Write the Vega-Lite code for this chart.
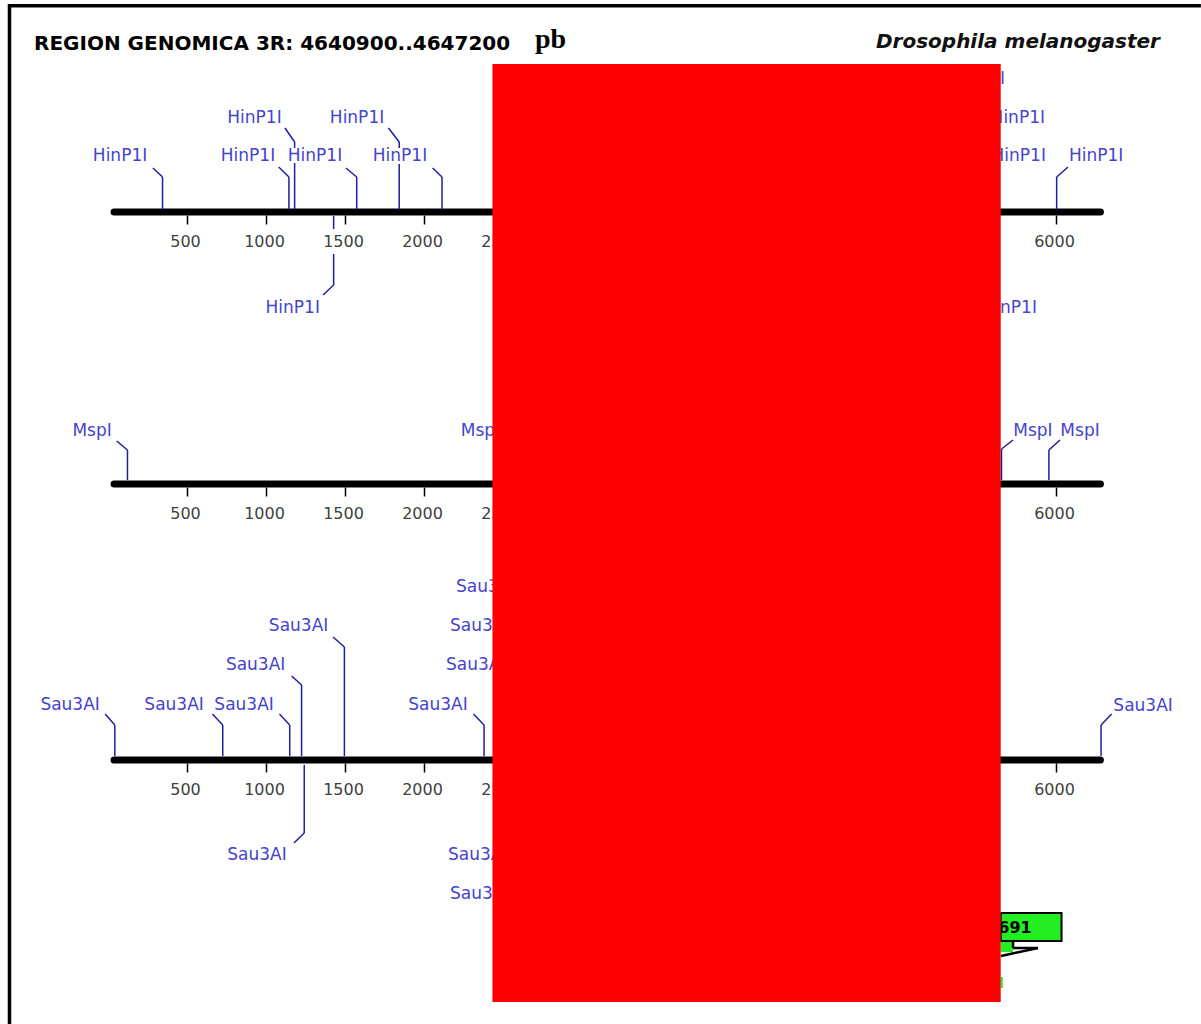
{
  "$schema": "https://vega.github.io/schema/vega-lite/v6.json",
  "autosize": {"type": "none"},
  "width": 1201,
  "height": 1024,
  "padding": 0,
  "background": "white",
  "config": {"view": {"stroke": null}},
  "datasets": {
    "frame": [
      {"x": -636, "y": 5.7, "x2": 6914, "y2": 5.7},
      {"x": -626.6, "y": 4, "x2": -626.6, "y2": 1024}
    ],
    "tracks": [
      {"x": 35, "x2": 6278, "y": 212, "y2": 212},
      {"x": 35, "x2": 6278, "y": 484, "y2": 484},
      {"x": 35, "x2": 6278, "y": 760, "y2": 760}
    ],
    "ticks": [
      {"x": 500, "y": 212}, {"x": 1000, "y": 212}, {"x": 1500, "y": 212}, {"x": 2000, "y": 212}, {"x": 2500, "y": 212}, {"x": 3000, "y": 212}, {"x": 3500, "y": 212}, {"x": 4000, "y": 212}, {"x": 4500, "y": 212}, {"x": 5000, "y": 212}, {"x": 5500, "y": 212}, {"x": 6000, "y": 212},
      {"x": 500, "y": 484}, {"x": 1000, "y": 484}, {"x": 1500, "y": 484}, {"x": 2000, "y": 484}, {"x": 2500, "y": 484}, {"x": 3000, "y": 484}, {"x": 3500, "y": 484}, {"x": 4000, "y": 484}, {"x": 4500, "y": 484}, {"x": 5000, "y": 484}, {"x": 5500, "y": 484}, {"x": 6000, "y": 484},
      {"x": 500, "y": 760}, {"x": 1000, "y": 760}, {"x": 1500, "y": 760}, {"x": 2000, "y": 760}, {"x": 2500, "y": 760}, {"x": 3000, "y": 760}, {"x": 3500, "y": 760}, {"x": 4000, "y": 760}, {"x": 4500, "y": 760}, {"x": 5000, "y": 760}, {"x": 5500, "y": 760}, {"x": 6000, "y": 760}
    ],
    "segs": [
      {"x": 342, "y": 209, "x2": 342, "y2": 177}, {"x": 342, "y": 177, "x2": 281, "y2": 168},
      {"x": 1142, "y": 209, "x2": 1142, "y2": 177}, {"x": 1142, "y": 177, "x2": 1077, "y2": 167},
      {"x": 1178, "y": 209, "x2": 1178, "y2": 163}, {"x": 1178, "y": 148, "x2": 1178, "y2": 142}, {"x": 1178, "y": 142, "x2": 1117, "y2": 128},
      {"x": 1571, "y": 209, "x2": 1571, "y2": 177}, {"x": 1571, "y": 177, "x2": 1503, "y2": 168},
      {"x": 1840, "y": 209, "x2": 1840, "y2": 164}, {"x": 1840, "y": 148, "x2": 1840, "y2": 142}, {"x": 1840, "y": 142, "x2": 1772, "y2": 128},
      {"x": 2111, "y": 209, "x2": 2111, "y2": 177}, {"x": 2111, "y": 177, "x2": 2051, "y2": 168},
      {"x": 6001, "y": 209, "x2": 6001, "y2": 177}, {"x": 6001, "y": 177, "x2": 6073, "y2": 167},
      {"x": 1425, "y": 216, "x2": 1425, "y2": 229}, {"x": 1425, "y": 254, "x2": 1425, "y2": 285}, {"x": 1425, "y": 285, "x2": 1358, "y2": 295},
      {"x": 120, "y": 480, "x2": 120, "y2": 450}, {"x": 120, "y": 450, "x2": 52, "y2": 441},
      {"x": 5652, "y": 480, "x2": 5652, "y2": 449}, {"x": 5652, "y": 449, "x2": 5725, "y2": 440},
      {"x": 5952, "y": 480, "x2": 5952, "y2": 450}, {"x": 5952, "y": 450, "x2": 6022, "y2": 440},
      {"x": 40, "y": 756, "x2": 40, "y2": 725}, {"x": 40, "y": 725, "x2": -21, "y2": 714},
      {"x": 723, "y": 756, "x2": 723, "y2": 725}, {"x": 723, "y": 725, "x2": 658, "y2": 714},
      {"x": 1147, "y": 756, "x2": 1147, "y2": 725}, {"x": 1147, "y": 725, "x2": 1082, "y2": 714},
      {"x": 1222, "y": 756, "x2": 1222, "y2": 685}, {"x": 1222, "y": 685, "x2": 1159, "y2": 676},
      {"x": 1493, "y": 756, "x2": 1493, "y2": 647}, {"x": 1493, "y": 647, "x2": 1421, "y2": 637},
      {"x": 2377, "y": 756, "x2": 2377, "y2": 725}, {"x": 2377, "y": 725, "x2": 2310, "y2": 714},
      {"x": 6282, "y": 756, "x2": 6282, "y2": 725}, {"x": 6282, "y": 725, "x2": 6349, "y2": 714},
      {"x": 1239, "y": 765, "x2": 1239, "y2": 833}, {"x": 1239, "y": 833, "x2": 1174, "y2": 843}
    ],
    "labels": [
      {"x": 73, "y": 156, "text": "HinP1I"}, {"x": 883, "y": 156, "text": "HinP1I"}, {"x": 924, "y": 118, "text": "HinP1I"},
      {"x": 1307, "y": 156, "text": "HinP1I"}, {"x": 1573, "y": 118, "text": "HinP1I"}, {"x": 1845, "y": 156, "text": "HinP1I"},
      {"x": 6251, "y": 156, "text": "HinP1I"}, {"x": 5502, "y": 79, "text": "HinP1I"}, {"x": 5755, "y": 118, "text": "HinP1I"},
      {"x": 5761, "y": 156, "text": "HinP1I"}, {"x": 1166, "y": 308, "text": "HinP1I"}, {"x": 5704, "y": 308, "text": "HinP1I"},
      {"x": -104, "y": 431, "text": "MspI"}, {"x": 2354, "y": 431, "text": "MspI"}, {"x": 5851, "y": 431, "text": "MspI"}, {"x": 6149, "y": 431, "text": "MspI"},
      {"x": -243, "y": 705, "text": "Sau3AI"}, {"x": 415, "y": 705, "text": "Sau3AI"}, {"x": 858, "y": 705, "text": "Sau3AI"},
      {"x": 931, "y": 665, "text": "Sau3AI"}, {"x": 1203, "y": 626, "text": "Sau3AI"}, {"x": 2085, "y": 705, "text": "Sau3AI"},
      {"x": 6548, "y": 706, "text": "Sau3AI"}, {"x": 2387, "y": 587, "text": "Sau3AI"}, {"x": 2349, "y": 626, "text": "Sau3AI"},
      {"x": 2324, "y": 665, "text": "Sau3AI"}, {"x": 940, "y": 855, "text": "Sau3AI"}, {"x": 2337, "y": 855, "text": "Sau3AI"}, {"x": 2349, "y": 894, "text": "Sau3AI"}
    ],
    "greens": [
      {"x": 5647, "x2": 5725, "y": 940, "y2": 952},
      {"x": 5647, "x2": 5660, "y": 977, "y2": 988}
    ],
    "callout": [
      {"x": 5647, "x2": 6032, "y": 913, "y2": 941}
    ],
    "tail": [
      {"x": 5725, "y": 942, "x2": 5725, "y2": 948},
      {"x": 5725, "y": 948, "x2": 5883, "y2": 948},
      {"x": 5883, "y": 948, "x2": 5649, "y2": 956}
    ],
    "gene": [{"x": 5843, "y": 928, "text": "691"}],
    "mask": [{"x": 2430, "x2": 5647, "y": 64, "y2": 1002}],
    "title": [{"x": -471.5, "y": 44, "text": "REGION GENOMICA 3R: 4640900..4647200"}],
    "unit": [{"x": 2699, "y": 40, "text": "pb"}],
    "species": [{"x": 6655, "y": 42, "text": "Drosophila melanogaster"}]
  },
  "encoding": {
    "x": {"field": "x", "type": "quantitative", "scale": {"domain": [-686.7, 6914.6], "nice": false, "zero": false}, "axis": null},
    "y": {"field": "y", "type": "quantitative", "scale": {"domain": [0, 1024], "reverse": true, "nice": false, "zero": false}, "axis": null}
  },
  "layer": [
    {
      "data": {"name": "frame"},
      "mark": {"type": "rule", "color": "black", "strokeWidth": 3.5},
      "encoding": {"x2": {"field": "x2"}, "y2": {"field": "y2"}}
    },
    {
      "data": {"name": "tracks"},
      "mark": {"type": "rule", "color": "black", "strokeWidth": 7, "strokeCap": "round"},
      "encoding": {"x2": {"field": "x2"}, "y2": {"field": "y2"}}
    },
    {
      "data": {"name": "ticks"},
      "mark": {"type": "tick", "orient": "vertical", "size": 9, "thickness": 1.5, "color": "black", "yOffset": 8, "opacity": 1},
      "encoding": {}
    },
    {
      "data": {"name": "ticks"},
      "mark": {"type": "text", "font": "DejaVu Sans", "fontSize": 16, "color": "#404040", "yOffset": 30, "dx": -2, "baseline": "middle", "align": "center"},
      "encoding": {"text": {"field": "x", "type": "quantitative", "format": "d"}}
    },
    {
      "data": {"name": "segs"},
      "mark": {"type": "rule", "color": "#1e1ea0", "strokeWidth": 1.5},
      "encoding": {"x2": {"field": "x2"}, "y2": {"field": "y2"}}
    },
    {
      "data": {"name": "labels"},
      "mark": {"type": "text", "font": "DejaVu Sans", "fontSize": 17, "color": "#4444cc", "baseline": "middle", "align": "center"},
      "encoding": {"text": {"field": "text"}}
    },
    {
      "data": {"name": "greens"},
      "mark": {"type": "rect", "color": "#22ee22"},
      "encoding": {"x2": {"field": "x2"}, "y2": {"field": "y2"}}
    },
    {
      "data": {"name": "callout"},
      "mark": {"type": "rect", "fill": "#22ee22", "stroke": "black", "strokeWidth": 2},
      "encoding": {"x2": {"field": "x2"}, "y2": {"field": "y2"}}
    },
    {
      "data": {"name": "tail"},
      "mark": {"type": "rule", "color": "black", "strokeWidth": 2.5},
      "encoding": {"x2": {"field": "x2"}, "y2": {"field": "y2"}}
    },
    {
      "data": {"name": "gene"},
      "mark": {"type": "text", "font": "DejaVu Sans", "fontWeight": "bold", "fontSize": 16, "color": "black", "baseline": "middle", "align": "right"},
      "encoding": {"text": {"field": "text"}}
    },
    {
      "data": {"name": "mask"},
      "mark": {"type": "rect", "color": "#ff0000", "opacity": 1},
      "encoding": {"x2": {"field": "x2"}, "y2": {"field": "y2"}}
    },
    {
      "data": {"name": "title"},
      "mark": {"type": "text", "font": "DejaVu Sans", "fontWeight": "bold", "fontSize": 20, "color": "black", "baseline": "middle", "align": "left"},
      "encoding": {"text": {"field": "text"}}
    },
    {
      "data": {"name": "unit"},
      "mark": {"type": "text", "font": "Liberation Serif", "fontWeight": "bold", "fontSize": 28, "color": "black", "baseline": "middle", "align": "left"},
      "encoding": {"text": {"field": "text"}}
    },
    {
      "data": {"name": "species"},
      "mark": {"type": "text", "font": "DejaVu Sans", "fontWeight": "bold", "fontStyle": "italic", "fontSize": 20, "color": "#111111", "baseline": "middle", "align": "right"},
      "encoding": {"text": {"field": "text"}}
    }
  ]
}
